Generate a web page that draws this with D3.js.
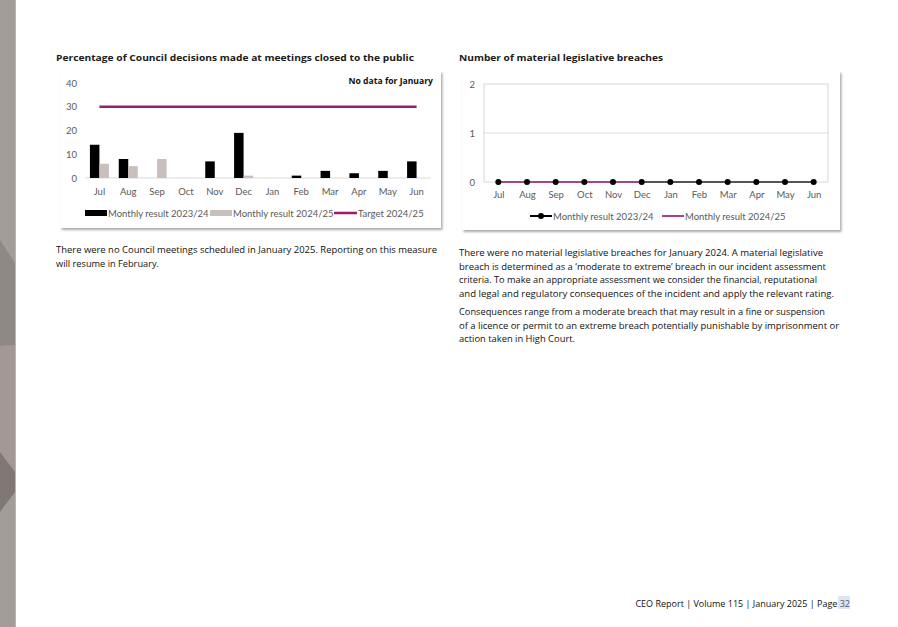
<!DOCTYPE html>
<html><head><meta charset="utf-8">
<script src="https://cdn.jsdelivr.net/npm/d3@7/dist/d3.min.js"></script>
<style>
body{margin:0;background:#fff;}
svg{display:block;}
</style></head>
<body>
<svg id="c" width="898" height="627"></svg>
<script>
const months = ["Jul","Aug","Sep","Oct","Nov","Dec","Jan","Feb","Mar","Apr","May","Jun"];
const closed2324 = [14,8,null,null,7,19,null,1,3,2,3,7];
const closed2425 = [6,5,8,null,null,1,null,null,null,null,null,null];
const target2425 = [30,30,30,30,30,30,30,30,30,30,30,30];
const closedTicks = [0,10,20,30,40];
const breach2324 = [0,0,0,0,0,0,0,0,0,0,0,0];
const breach2425 = [0,0,0,0,0,0];
const breachTicks = [0,1,2];

const svg = d3.select("#c");
const TF = "'Open Sans', sans-serif";
const LF = "Lato, 'Liberation Sans', sans-serif";
const grey = "#595959";
const purple = "#9b1c6e";
const pink = "#a8438a";

const defs = svg.append("defs");
const f = defs.append("filter").attr("id","sh").attr("x","-5%").attr("y","-5%").attr("width","115%").attr("height","120%");
f.append("feDropShadow").attr("dx",1.5).attr("dy",2).attr("stdDeviation",1.2).attr("flood-color","#000").attr("flood-opacity",0.33);

// sidebar
svg.append("rect").attr("x",0).attr("y",0).attr("width",15).attr("height",627).attr("fill","#a29d98");
svg.append("polygon").attr("points","0,240 15,263 15,345 0,346").attr("fill","#8f8985");
svg.append("polygon").attr("points","0,346 15,345 15,472 0,452").attr("fill","#a39896");
svg.append("polygon").attr("points","0,452 15,472 15,492 0,512").attr("fill","#7f7874");
svg.append("rect").attr("x",15).attr("y",0).attr("width",1).attr("height",627).attr("fill","#b9b5b1");

// ---------- Left chart ----------
svg.append("text").attr("x",56).attr("y",61).attr("font-family",TF).attr("font-weight",700)
  .attr("font-size",9.6).attr("fill","#1a1a1a").attr("textLength",358).attr("lengthAdjust","spacingAndGlyphs")
  .text("Percentage of Council decisions made at meetings closed to the public");

svg.append("rect").attr("x",60).attr("y",71).attr("width",381).attr("height",157).attr("fill","#fff").attr("filter","url(#sh)");

const x1 = d3.scaleBand().domain(months).range([85,431]).paddingInner(0).paddingOuter(0);
const xs = d3.scaleBand().domain(["a","b"]).range([0,19]);
const y1 = d3.scaleLinear().domain([0,40]).range([178,83]);
const off = (x1.bandwidth()-19)/2;

const g1 = svg.append("g");
g1.append("line").attr("x1",85).attr("x2",431).attr("y1",y1(0)).attr("y2",y1(0)).attr("stroke","#d9d9d9").attr("stroke-width",1);

const yAx1 = d3.axisLeft(y1).tickValues(closedTicks).tickSize(0).tickPadding(0);
const ya1 = g1.append("g").attr("transform","translate(77,0)").call(yAx1);
ya1.select(".domain").remove();
ya1.selectAll("text").attr("font-family",LF).attr("font-size",9.5).attr("fill",grey);

const xAx1 = d3.axisBottom(x1).tickSize(0).tickPadding(0);
const xa1 = g1.append("g").attr("transform","translate(0,188)").call(xAx1);
xa1.select(".domain").remove();
xa1.selectAll("text").attr("font-family",LF).attr("font-size",9.5).attr("fill",grey);

g1.selectAll("rect.a").data(months.map((m,i)=>({m,v:closed2324[i]})).filter(d=>d.v!=null))
  .join("rect").attr("class","a")
  .attr("x",d=>x1(d.m)+off+xs("a")).attr("width",xs.bandwidth())
  .attr("y",d=>y1(d.v)).attr("height",d=>y1(0)-y1(d.v)).attr("fill","#000");
g1.selectAll("rect.b").data(months.map((m,i)=>({m,v:closed2425[i]})).filter(d=>d.v!=null))
  .join("rect").attr("class","b")
  .attr("x",d=>x1(d.m)+off+xs("b")).attr("width",xs.bandwidth())
  .attr("y",d=>y1(d.v)).attr("height",d=>y1(0)-y1(d.v)).attr("fill","#c9bfbc");

const line1 = d3.line().x((d,i)=>x1(months[i])+x1.bandwidth()/2).y(d=>y1(d));
g1.append("path").attr("d",line1(target2425)).attr("fill","none").attr("stroke",purple).attr("stroke-width",2.5);

svg.append("text").attr("x",433).attr("y",84).attr("text-anchor","end").attr("font-family",TF)
  .attr("font-weight",700).attr("font-size",8.6).attr("fill","#111").text("No data for January");

const lg1 = svg.append("g").attr("font-family",LF).attr("font-size",9.5).attr("fill",grey);
lg1.append("rect").attr("x",85).attr("y",210).attr("width",22).attr("height",6).attr("fill","#000");
lg1.append("text").attr("x",108).attr("y",216.5).text("Monthly result 2023/24");
lg1.append("rect").attr("x",210).attr("y",210).attr("width",22).attr("height",6).attr("fill","#c9bfbc");
lg1.append("text").attr("x",233).attr("y",216.5).text("Monthly result 2024/25");
lg1.append("line").attr("x1",334).attr("x2",357).attr("y1",213).attr("y2",213).attr("stroke",purple).attr("stroke-width",2.5);
lg1.append("text").attr("x",358).attr("y",216.5).text("Target 2024/25");

// ---------- Right chart ----------
svg.append("text").attr("x",459).attr("y",61).attr("font-family",TF).attr("font-weight",700)
  .attr("font-size",9.6).attr("fill","#1a1a1a").attr("textLength",204).attr("lengthAdjust","spacingAndGlyphs")
  .text("Number of material legislative breaches");

svg.append("rect").attr("x",462).attr("y",71).attr("width",378).attr("height",159).attr("fill","#fff").attr("filter","url(#sh)");

const x2 = d3.scalePoint().domain(months).range([484,828]).padding(0.5);
const y2 = d3.scaleLinear().domain([0,2]).range([182,84]);
const g2 = svg.append("g");
g2.append("rect").attr("x",484).attr("y",y2(2)).attr("width",344).attr("height",y2(0)-y2(2)).attr("fill","none").attr("stroke","#ddd5d5").attr("stroke-width",1);
g2.selectAll("line.grid").data([1]).join("line").attr("class","grid")
  .attr("x1",484).attr("x2",828).attr("y1",d=>y2(d)).attr("y2",d=>y2(d)).attr("stroke","#ddd8d8");

const ya2 = g2.append("g").attr("transform","translate(475,0)").call(d3.axisLeft(y2).tickValues(breachTicks).tickFormat(d3.format("d")).tickSize(0).tickPadding(0));
ya2.select(".domain").remove();
ya2.selectAll("text").attr("font-family",LF).attr("font-size",9.5).attr("fill",grey);
const xa2 = g2.append("g").attr("transform","translate(0,191)").call(d3.axisBottom(x2).tickSize(0).tickPadding(0));
xa2.select(".domain").remove();
xa2.selectAll("text").attr("font-family",LF).attr("font-size",9.5).attr("fill",grey);

const line2 = d3.line().x((d,i)=>x2(months[i])).y(d=>y2(d));
g2.append("path").attr("d",line2(breach2324)).attr("fill","none").attr("stroke","#555").attr("stroke-width",2.2);
g2.append("path").attr("d",line2(breach2425)).attr("fill","none").attr("stroke",pink).attr("stroke-width",2);
g2.selectAll("circle.m").data(breach2324).join("circle").attr("class","m")
  .attr("cx",(d,i)=>x2(months[i])).attr("cy",d=>y2(d)).attr("r",3).attr("fill","#000");

const lg2 = svg.append("g").attr("font-family",LF).attr("font-size",9.5).attr("fill",grey);
lg2.append("line").attr("x1",530).attr("x2",552).attr("y1",216).attr("y2",216).attr("stroke","#000").attr("stroke-width",2);
lg2.append("circle").attr("cx",541).attr("cy",216).attr("r",3).attr("fill","#000");
lg2.append("text").attr("x",553).attr("y",219.5).text("Monthly result 2023/24");
lg2.append("line").attr("x1",662).attr("x2",684).attr("y1",216).attr("y2",216).attr("stroke",pink).attr("stroke-width",2);
lg2.append("text").attr("x",685).attr("y",219.5).text("Monthly result 2024/25");

// ---------- Body text ----------
const BF = "'Open Sans', sans-serif";
function para(x, y0, lines, widths){
  const t = svg.append("g").attr("font-family",BF).attr("font-size",8.8).attr("font-weight",500).attr("fill","#111");
  lines.forEach((l,i)=>{
    const tx = t.append("text").attr("x",x).attr("y",y0+i*13.6).text(l);
    if(widths && widths[i]) tx.attr("textLength",widths[i]).attr("lengthAdjust","spacingAndGlyphs");
  });
}
para(56,253,["There were no Council meetings scheduled in January 2025. Reporting on this measure","will resume in February."],[381,103]);
para(459,256,["There were no material legislative breaches for January 2024. A material legislative",
"breach is determined as a \u2018moderate to extreme\u2019 breach in our incident assessment",
"criteria. To make an appropriate assessment we consider the financial, reputational",
"and legal and regulatory consequences of the incident and apply the relevant rating."],[364,367,358,375]);
para(459,315,["Consequences range from a moderate breach that may result in a fine or suspension",
"of a licence or permit to an extreme breach potentially punishable by imprisonment or",
"action taken in High Court."],[366,380,116]);

// footer
svg.append("rect").attr("x",838).attr("y",596).attr("width",12).attr("height",13).attr("fill","#dfe4ef");
const ft = svg.append("text").attr("x",850).attr("y",606.5).attr("text-anchor","end").attr("font-family",BF).attr("font-size",9).attr("font-weight",500).attr("fill","#111");
ft.append("tspan").text("CEO Report | Volume 115 | January 2025 | Page ");
ft.append("tspan").attr("fill","#4a5a7a").text("32");
</script>
</body></html>
